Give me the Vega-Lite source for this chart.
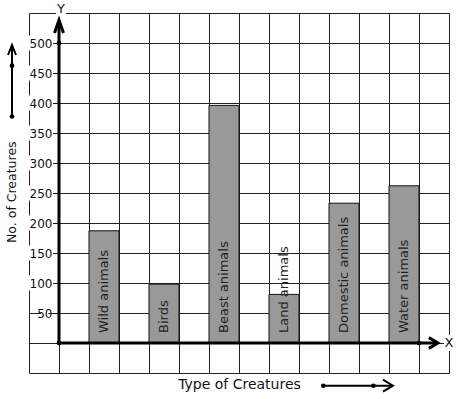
{
  "$schema": "https://vega.github.io/schema/vega-lite/v6.json",
  "width": 420,
  "height": 360,
  "autosize": {"type": "none"},
  "padding": {"left": 29, "top": 13, "right": 8, "bottom": 26},
  "background": "white",
  "config": {"view": {"stroke": "#222", "strokeWidth": 1}, "font": "DejaVu Sans"},
  "datasets": {
    "bars": [
      {"name": "Wild animals", "x0": 1, "x1": 2, "value": 187},
      {"name": "Birds", "x0": 3, "x1": 4, "value": 98},
      {"name": "Beast animals", "x0": 5, "x1": 6, "value": 396},
      {"name": "Land animals", "x0": 7, "x1": 8, "value": 81},
      {"name": "Domestic animals", "x0": 9, "x1": 10, "value": 233},
      {"name": "Water animals", "x0": 11, "x1": 12, "value": 262}
    ],
    "ticks": [{"v": 50}, {"v": 100}, {"v": 150}, {"v": 200}, {"v": 250}, {"v": 300}, {"v": 350}, {"v": 400}, {"v": 450}, {"v": 500}],
    "thick": [
      {"id": "ya", "k": 1, "x": 0, "y": 0}, {"id": "ya", "k": 2, "x": 0, "y": 536},
      {"id": "yh", "k": 1, "x": -0.15, "y": 516.7}, {"id": "yh", "k": 2, "x": 0, "y": 538.3}, {"id": "yh", "k": 3, "x": 0.15, "y": 516.7},
      {"id": "xa", "k": 1, "x": 0, "y": 0}, {"id": "xa", "k": 2, "x": 12.6, "y": 0},
      {"id": "xh", "k": 1, "x": 12.33, "y": 9}, {"id": "xh", "k": 2, "x": 12.63, "y": 0}, {"id": "xh", "k": 3, "x": 12.33, "y": -9}
    ],
    "thin": [
      {"id": "va", "k": 1, "x": -1.567, "y": 377.5}, {"id": "va", "k": 2, "x": -1.567, "y": 495},
      {"id": "vh", "k": 1, "x": -1.7, "y": 480}, {"id": "vh", "k": 2, "x": -1.567, "y": 496.7}, {"id": "vh", "k": 3, "x": -1.433, "y": 480},
      {"id": "ha", "k": 1, "x": 8.81, "y": -71.2}, {"id": "ha", "k": 2, "x": 11.1, "y": -71.2},
      {"id": "hh", "k": 1, "x": 10.8, "y": -61.2}, {"id": "hh", "k": 2, "x": 11.13, "y": -71.2}, {"id": "hh", "k": 3, "x": 10.8, "y": -81.2}
    ],
    "dots": [
      {"x": 0, "y": 0}, {"x": 0, "y": 500}, {"x": 12, "y": 0},
      {"x": -1.567, "y": 377.5}, {"x": -1.567, "y": 462.2},
      {"x": 8.81, "y": -71.2}, {"x": 10.48, "y": -71.2}
    ],
    "letters": [{"t": "Y", "x": 0.067, "y": 556.7}, {"t": "X", "x": 13, "y": 0}]
  },
  "resolve": {"axis": {"x": "independent", "y": "independent"}},
  "layer": [
    {
      "data": {"name": "ticks"},
      "transform": [{"filter": "datum.v >= 100"}],
      "mark": {"type": "point", "shape": "M-1.6,-1H1.6V1H-1.6Z", "filled": true, "fill": "white", "strokeWidth": 0, "size": 225, "opacity": 1},
      "encoding": {
        "x": {"datum": -0.6, "type": "quantitative", "scale": {"domain": [-1, 13], "nice": false, "zero": false},
          "axis": {"orient": "bottom", "values": [0, 1, 2, 3, 4, 5, 6, 7, 8, 9, 10, 11, 12], "grid": true, "gridColor": "#222", "gridWidth": 1, "domain": false, "ticks": false, "labels": false,
            "title": "Type of Creatures", "titleFont": "DejaVu Sans", "titleFontSize": 14, "titleFontWeight": "normal", "titleColor": "#111", "titleX": 210, "titleY": 11, "titleAlign": "center", "titleBaseline": "middle", "zindex": 0}},
        "y": {"field": "v", "type": "quantitative", "scale": {"domain": [-50, 550], "nice": false, "zero": false},
          "axis": {"orient": "left", "values": [0, 50, 100, 150, 200, 250, 300, 350, 400, 450, 500], "grid": true, "gridColor": "#222", "gridWidth": 1, "domain": false, "ticks": false, "labels": false,
            "title": "No. of Creatures", "titleFont": "DejaVu Sans", "titleFontSize": 12.5, "titleFontWeight": "normal", "titleColor": "#111", "titleAngle": 270, "titleX": -17.5, "titleY": 178.7, "titleAlign": "center", "titleBaseline": "middle", "zindex": 0}}
      }
    },
    {
      "data": {"name": "ticks"},
      "transform": [{"filter": "datum.v < 100"}],
      "mark": {"type": "point", "shape": "M-1,-1.3H1V1.3H-1Z", "filled": true, "fill": "white", "strokeWidth": 0, "size": 56, "opacity": 1},
      "encoding": {
        "x": {"datum": -0.48, "type": "quantitative", "axis": null},
        "y": {"field": "v", "type": "quantitative", "axis": null}
      }
    },
    {
      "data": {"name": "letters"},
      "mark": {"type": "point", "shape": "M-1,-1.6H1V1.6H-1Z", "filled": true, "fill": "white", "strokeWidth": 0, "size": 100, "opacity": 1},
      "encoding": {
        "x": {"field": "x", "type": "quantitative", "axis": null},
        "y": {"field": "y", "type": "quantitative", "axis": null}
      }
    },
    {
      "data": {"name": "bars"},
      "mark": {"type": "rect", "fill": "#999999", "stroke": "#111", "strokeWidth": 1},
      "encoding": {
        "x": {"field": "x0", "type": "quantitative", "axis": null},
        "x2": {"field": "x1"},
        "y": {"field": "value", "type": "quantitative",
          "axis": {"orient": "left", "offset": -30, "values": [50, 100, 150, 200, 250, 300, 350, 400, 450, 500], "grid": false, "domain": false, "ticks": true, "tickSize": 6, "tickColor": "#111", "tickWidth": 1,
            "labelFont": "DejaVu Sans", "labelFontSize": 12, "labelColor": "#111", "labelPadding": 1, "title": null, "zindex": 1}},
        "y2": {"datum": 0}
      }
    },
    {
      "data": {"name": "bars"},
      "mark": {"type": "text", "angle": 270, "align": "left", "baseline": "middle", "dx": 10, "dy": 15, "font": "DejaVu Sans", "fontSize": 13, "color": "#222"},
      "encoding": {
        "x": {"field": "x0", "type": "quantitative", "axis": null},
        "y": {"datum": 0, "type": "quantitative", "axis": null},
        "text": {"field": "name"}
      }
    },
    {
      "data": {"name": "thick"},
      "mark": {"type": "line", "color": "#000", "strokeWidth": 3, "strokeJoin": "miter", "strokeCap": "butt"},
      "encoding": {
        "x": {"field": "x", "type": "quantitative", "axis": null},
        "y": {"field": "y", "type": "quantitative", "axis": null},
        "detail": {"field": "id"},
        "order": {"field": "k"}
      }
    },
    {
      "data": {"name": "thin"},
      "mark": {"type": "line", "color": "#000", "strokeWidth": 2, "strokeJoin": "miter", "strokeCap": "butt"},
      "encoding": {
        "x": {"field": "x", "type": "quantitative", "axis": null},
        "y": {"field": "y", "type": "quantitative", "axis": null},
        "detail": {"field": "id"},
        "order": {"field": "k"}
      }
    },
    {
      "data": {"name": "dots"},
      "mark": {"type": "point", "shape": "circle", "filled": true, "color": "#000", "size": 22, "opacity": 1},
      "encoding": {
        "x": {"field": "x", "type": "quantitative", "axis": null},
        "y": {"field": "y", "type": "quantitative", "axis": null}
      }
    },
    {
      "data": {"name": "letters"},
      "mark": {"type": "text", "align": "center", "baseline": "middle", "font": "DejaVu Sans", "fontSize": 13, "color": "#111"},
      "encoding": {
        "x": {"field": "x", "type": "quantitative", "axis": null},
        "y": {"field": "y", "type": "quantitative", "axis": null},
        "text": {"field": "t"}
      }
    }
  ]
}
